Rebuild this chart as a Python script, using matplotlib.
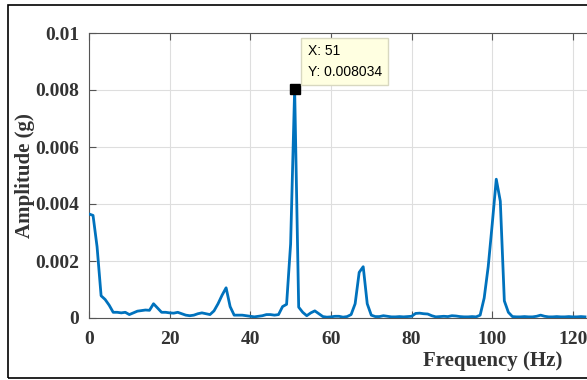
import numpy as np
import matplotlib
matplotlib.use('Agg')
import matplotlib.pyplot as plt
from matplotlib.patches import Rectangle

# spectrum, 1 Hz steps
freq = np.arange(0, 124)
amp = [
    0.00365, 0.0036, 0.0025, 0.00078, 0.00065, 0.00045, 0.0002, 0.0002, 0.00018, 0.0002,
    0.00012, 0.00018, 0.00024, 0.00026, 0.00028, 0.00027, 0.0005, 0.00035, 0.0002, 0.0002,
    0.00018, 0.00017, 0.0002, 0.00015, 0.0001, 0.00008, 0.0001, 0.00015, 0.00018, 0.00015,
    0.00012, 0.00025, 0.0005, 0.0008, 0.00106, 0.0004, 0.0001, 0.0001, 0.0001, 0.00008,
    0.00006, 0.00004, 0.00006, 0.00008, 0.00012, 0.00012, 0.0001, 0.00012, 0.0004, 0.00048,
    0.0026, 0.008034, 0.00038, 0.0002, 0.00008, 0.00018, 0.00025, 0.00015, 0.00005, 0.00003,
    0.00004, 0.00006, 0.00006, 0.00003, 0.00005, 0.00012, 0.0005, 0.0016, 0.0018, 0.0005,
    0.0001, 0.00005, 0.00005, 0.00008, 0.00006, 0.00004, 0.00004, 0.00005, 0.00004, 0.00005,
    0.00006, 0.00016, 0.00017, 0.00015, 0.00014, 0.00008, 0.00004, 0.00005, 0.00006, 0.00005,
    0.00008, 0.00007, 0.00005, 0.00004, 0.00004, 0.00005, 0.00004, 0.0001, 0.0007, 0.0018,
    0.0033, 0.00487, 0.0041, 0.0006, 0.0002, 0.00005, 0.00004, 0.00004, 0.00005, 0.00004,
    0.00004, 0.00006, 0.0001, 0.00006, 0.00004, 0.00004, 0.00005, 0.00004, 0.00004, 0.00005,
    0.00004, 0.00004, 0.00005, 0.00004,
]
tip_x = 51
tip_y = 0.008034

fig = plt.figure(figsize=(5.87, 3.80), dpi=100)
# frame around the figure
fig.patches.append(Rectangle((8/587, 2/380), 1.2, 373/380, transform=fig.transFigure,
                             fill=False, edgecolor='black', linewidth=1.2))

ax = fig.add_axes([89/587, 62/380, 1 - 89/587, 285/380])
ax.plot(freq, amp, color='#0072BD', linewidth=2.0, zorder=3)
ax.plot(tip_x, tip_y, marker='s', color='black', markersize=7, zorder=4)

ax.set_xlim(0, 123.5)
ax.set_ylim(0, 0.01)
ax.set_xticks([0, 20, 40, 60, 80, 100, 120])
ax.set_yticks([0, 0.002, 0.004, 0.006, 0.008, 0.01])
ax.set_yticklabels(['0', '0.002', '0.004', '0.006', '0.008', '0.01'])

ax.grid(True, color='#dedede', linewidth=0.8)
ax.set_axisbelow(True)
for s in ['left', 'bottom', 'top']:
    ax.spines[s].set_color('#555555')
ax.spines['right'].set_visible(False)
ax.tick_params(axis='x', pad=9)
ax.tick_params(axis='y', pad=7)
ax.tick_params(direction='in', top=True, length=5, color='#555555')
for lab in ax.get_xticklabels() + ax.get_yticklabels():
    lab.set_fontfamily('Liberation Serif')
    lab.set_fontweight('bold')
    lab.set_fontsize(14)
    lab.set_color('#333333')

ax.set_xlabel('Frequency (Hz)', fontfamily='Liberation Serif', fontweight='bold',
              fontsize=15, color='#333333')
ax.xaxis.set_label_coords(0.81, -0.115)
ax.set_ylabel('Amplitude (g)', fontfamily='Liberation Serif', fontweight='bold',
              fontsize=15, color='#333333', labelpad=0)

ax.annotate('X: 51\nY: 0.008034', xy=(tip_x, tip_y), xytext=(54.2, 0.0096),
            fontfamily='Liberation Sans', fontsize=10, va='top', ha='left',
            linespacing=1.6,
            bbox=dict(boxstyle='square,pad=0.45', facecolor='#ffffe1', edgecolor='#d8d8c0'),
            zorder=5)

fig.savefig('out.png', dpi=100)
